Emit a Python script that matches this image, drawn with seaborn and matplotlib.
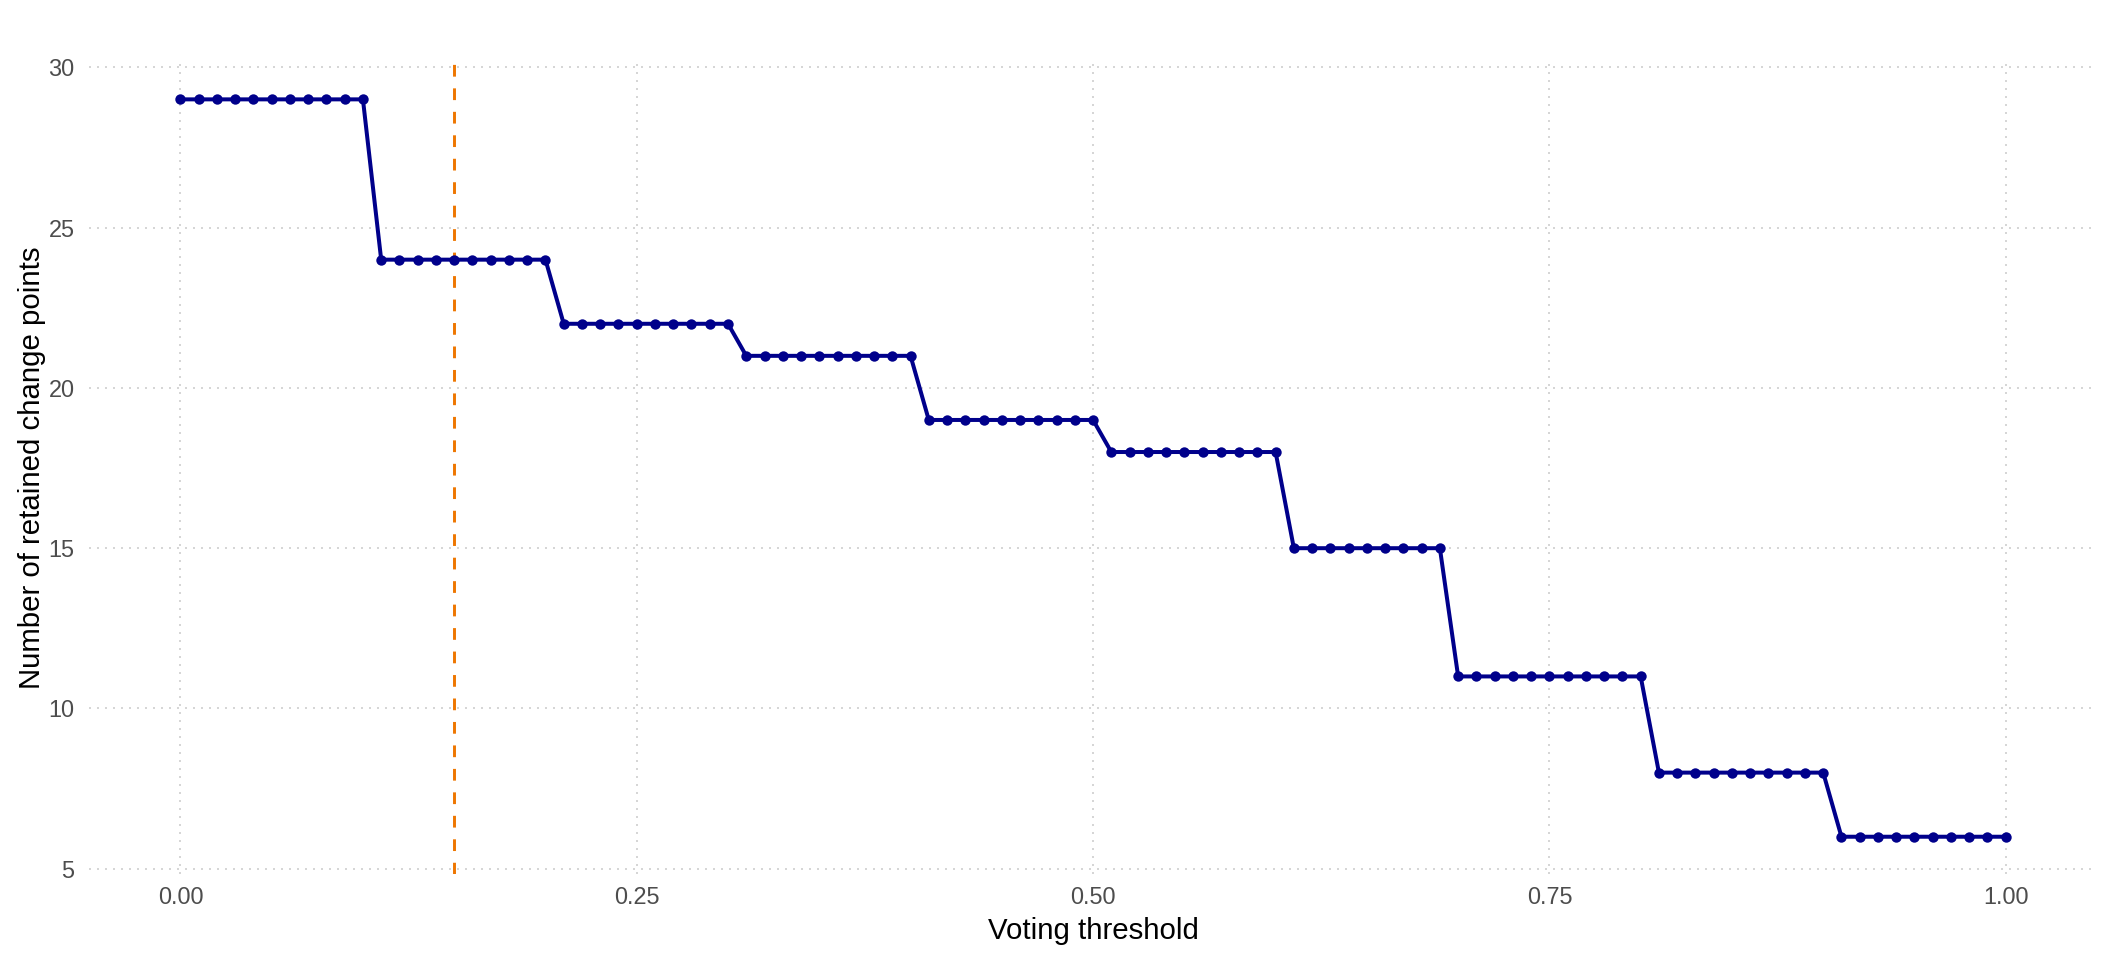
import matplotlib
matplotlib.use('Agg')
import matplotlib.pyplot as plt
import seaborn as sns
import pandas as pd

# Voting thresholds (0.00 .. 1.00 by 0.01) and retained change points
thresholds = [
    0.00, 0.01, 0.02, 0.03, 0.04, 0.05, 0.06, 0.07, 0.08, 0.09,
    0.10, 0.11, 0.12, 0.13, 0.14, 0.15, 0.16, 0.17, 0.18, 0.19,
    0.20, 0.21, 0.22, 0.23, 0.24, 0.25, 0.26, 0.27, 0.28, 0.29,
    0.30, 0.31, 0.32, 0.33, 0.34, 0.35, 0.36, 0.37, 0.38, 0.39,
    0.40, 0.41, 0.42, 0.43, 0.44, 0.45, 0.46, 0.47, 0.48, 0.49,
    0.50, 0.51, 0.52, 0.53, 0.54, 0.55, 0.56, 0.57, 0.58, 0.59,
    0.60, 0.61, 0.62, 0.63, 0.64, 0.65, 0.66, 0.67, 0.68, 0.69,
    0.70, 0.71, 0.72, 0.73, 0.74, 0.75, 0.76, 0.77, 0.78, 0.79,
    0.80, 0.81, 0.82, 0.83, 0.84, 0.85, 0.86, 0.87, 0.88, 0.89,
    0.90, 0.91, 0.92, 0.93, 0.94, 0.95, 0.96, 0.97, 0.98, 0.99,
    1.00,
]
n_retained = [
    29, 29, 29, 29, 29, 29, 29, 29, 29, 29,
    29, 24, 24, 24, 24, 24, 24, 24, 24, 24,
    24, 22, 22, 22, 22, 22, 22, 22, 22, 22,
    22, 21, 21, 21, 21, 21, 21, 21, 21, 21,
    21, 19, 19, 19, 19, 19, 19, 19, 19, 19,
    19, 18, 18, 18, 18, 18, 18, 18, 18, 18,
    18, 15, 15, 15, 15, 15, 15, 15, 15, 15,
    11, 11, 11, 11, 11, 11, 11, 11, 11, 11,
    11, 8, 8, 8, 8, 8, 8, 8, 8, 8,
    8, 6, 6, 6, 6, 6, 6, 6, 6, 6,
    6,
]
chosen_threshold = 0.15

x_ticks = [0.00, 0.25, 0.50, 0.75, 1.00]
x_tick_labels = ['0.00', '0.25', '0.50', '0.75', '1.00']
y_ticks = [5, 10, 15, 20, 25, 30]

df = pd.DataFrame({'threshold': thresholds, 'n_cp': n_retained})

sns.set_theme(style='white')
plt.rcParams['font.family'] = ['Liberation Sans', 'DejaVu Sans']

fig, ax = plt.subplots(figsize=(11, 5), dpi=192)
fig.subplots_adjust(left=0.0422, right=0.9929, bottom=0.09, top=0.9349)

# dotted major grid, drawn below the data
ax.set_axisbelow(True)
for x in x_ticks:
    ax.axvline(x, color='#D6D6D6', lw=0.75, dashes=(1, 3), zorder=0)
for y in y_ticks:
    ax.axhline(y, color='#D6D6D6', lw=0.75, dashes=(1, 3), zorder=0)

sns.lineplot(data=df, x='threshold', y='n_cp', color='#00008B', linewidth=1.5,
             marker='o', markersize=3.9, markeredgewidth=0, ax=ax, zorder=3)

ax.axvline(chosen_threshold, color='#EE7600', lw=1.1, dashes=(4, 4), zorder=2)

ax.set_xlim(-0.05, 1.05)
ax.set_ylim(4.85, 30.15)
ax.set_xticks(x_ticks)
ax.set_xticklabels(x_tick_labels)
ax.set_yticks(y_ticks)
ax.grid(False)
for s in ax.spines.values():
    s.set_visible(False)

ax.tick_params(axis='both', length=0, labelsize=8.8, labelcolor='#4D4D4D')
ax.tick_params(axis='x', pad=4.5)
ax.tick_params(axis='y', pad=5.5)
ax.set_xlabel('Voting threshold', fontsize=11, color='black', labelpad=3)
ax.set_ylabel('Number of retained change points', fontsize=11, color='black', labelpad=1)

plt.savefig('out.png', dpi=192)
plt.close()
